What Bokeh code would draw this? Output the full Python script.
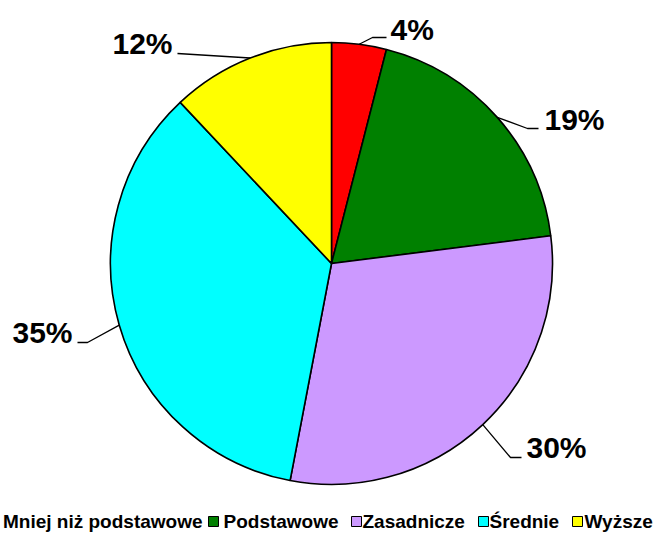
import numpy as np
from bokeh.plotting import figure
from bokeh.models import Range1d, ColumnDataSource
from bokeh.core.properties import value
from bokeh.embed import file_html
from bokeh.resources import INLINE

# ---- data ----
categories = ["Mniej niż podstawowe", "Podstawowe", "Zasadnicze", "Średnie", "Wyższe"]
shares = [4, 19, 30, 35, 12]
labels = ["4%", "19%", "30%", "35%", "12%"]
colors = ["#FF0000", "#008000", "#CC99FF", "#00FFFF", "#FFFF00"]

# ---- layout (pixel coordinates, y measured from top) ----
W, H = 657, 552
CX, CY, R = 331, 263, 221
# leader elbow / end points and text anchors (vertical centre) per slice
elbow_pts = [(372, 37), (527, 128), (510, 457), (87, 342), (177, 53)]
end_pts = [(386, 37), (538, 128), (521, 457), (77, 342), (177, 53)]
text_pts = [(390, 29), (544, 119), (526, 447), (72, 332), (172, 43)]
text_aligns = ["left", "left", "left", "right", "right"]
leg_marker_x = [-15, 213, 356, 483, 577]
leg_text_x = [202, 223, 362, 489, 584]
leg_text_align = ["right", "left", "left", "left", "left"]
LEG_Y = 521

FONT = value("Liberation Sans")

p = figure(width=W, height=H, output_backend="svg", toolbar_location=None,
           x_range=Range1d(0, W), y_range=Range1d(0, H),
           min_border=0, background_fill_color="white", border_fill_color="white")
p.axis.visible = False
p.grid.visible = False
p.outline_line_color = None


def Y(yp):
    return H - yp


frac = np.array(shares, dtype=float) / sum(shares)
cum = np.concatenate([[0.0], np.cumsum(frac)])
start = np.pi / 2 - 2 * np.pi * cum[:-1]
end = np.pi / 2 - 2 * np.pi * cum[1:]
mid = (start + end) / 2

src = ColumnDataSource(dict(start=start, end=end, color=colors, cat=categories))
p.wedge(x=CX, y=Y(CY), radius=R, start_angle="start", end_angle="end",
        direction="clock", fill_color="color", line_color="black",
        line_width=1.6, source=src)

# leader lines
xs, ys = [], []
for m, e, f in zip(mid, elbow_pts, end_pts):
    ex = CX + R * np.cos(m)
    ey = Y(CY) + R * np.sin(m)
    xs.append([ex, e[0], f[0]])
    ys.append([ey, Y(e[1]), Y(f[1])])
p.multi_line(xs=xs, ys=ys, line_color="black", line_width=1.3)

# percentage labels
for al in ("left", "right"):
    idx = [i for i, a in enumerate(text_aligns) if a == al]
    p.text(x=[text_pts[i][0] for i in idx], y=[Y(text_pts[i][1]) for i in idx],
           text=[labels[i] for i in idx], text_align=al, text_baseline="middle",
           text_font=FONT, text_font_style="bold", text_font_size="30px",
           text_color="black")

# legend
p.scatter(x=leg_marker_x, y=[Y(LEG_Y)] * len(categories), marker="square",
          size=10, fill_color=colors, line_color="black", line_width=1)
for al in ("left", "right"):
    idx = [i for i, a in enumerate(leg_text_align) if a == al]
    p.text(x=[leg_text_x[i] for i in idx], y=[Y(LEG_Y)] * len(idx),
           text=[categories[i] for i in idx], text_align=al, text_baseline="middle",
           text_font=FONT, text_font_style="bold", text_font_size="19px",
           text_color="black")

html = file_html(p, INLINE)
html = html.replace("<head>", "<head>\n<style>html,body{margin:0;padding:0;overflow:hidden;}</style>", 1)
open("out.html", "w").write(html)
